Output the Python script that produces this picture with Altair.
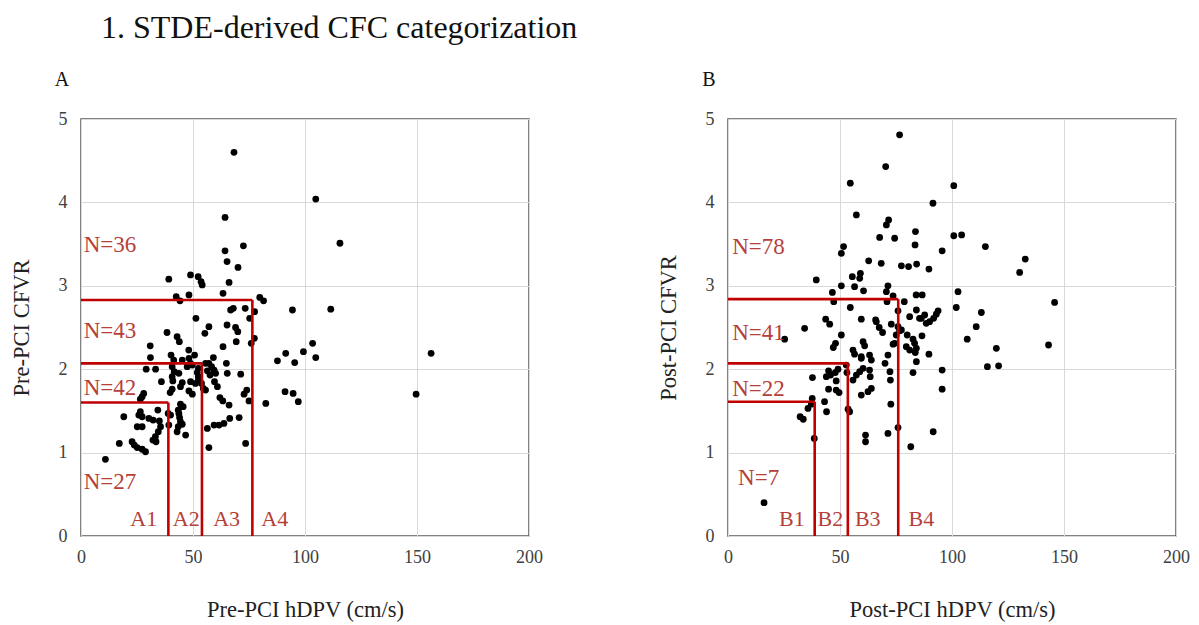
import altair as alt
import pandas as pd

# ---------------- data ----------------
# Panel A: pre-PCI (hDPV cm/s, CFVR)
a_points = [
    (68.3, 4.60), (104.8, 4.04), (64.3, 3.82), (115.6, 3.51), (72.5, 3.48), (64.3, 3.42), (65.2, 3.29), (70.1, 3.22),
    (39.2, 3.08), (48.9, 3.13), (52.3, 3.11), (53.6, 3.05), (54.1, 3.01), (66.1, 3.04),
    (63.4, 2.91), (48.2, 2.89), (42.5, 2.87), (44.2, 2.82), (79.8, 2.86), (81.5, 2.82),
    (66.8, 2.71), (68.0, 2.73), (73.3, 2.73), (77.5, 2.69), (94.4, 2.71), (111.5, 2.72),
    (51.3, 2.61), (75.3, 2.61),
    (57.1, 2.51), (55.3, 2.43), (65.2, 2.53), (69.0, 2.50), (70.0, 2.45), (69.3, 2.33), (77.4, 2.37), (76.0, 2.31),
    (38.4, 2.44), (42.9, 2.39), (43.9, 2.33), (30.9, 2.28), (63.4, 2.27), (48.1, 2.23),
    (103.4, 2.31), (99.3, 2.21), (91.4, 2.19), (87.7, 2.10), (95.4, 2.08), (104.8, 2.14), (156.3, 2.19),
    (31.0, 2.14), (40.2, 2.17), (41.4, 2.11), (50.7, 2.17), (48.2, 2.13), (45.2, 2.11), (59.1, 2.14),
    (57.1, 2.07), (55.6, 2.07), (64.9, 2.07), (48.9, 2.07),
    (29.1, 2.00), (33.3, 2.00), (40.7, 2.03), (41.6, 1.97), (47.4, 2.03), (49.7, 2.05), (43.7, 1.95),
    (52.4, 2.01), (51.9, 1.96), (52.4, 1.91), (52.4, 1.87), (53.8, 1.83), (51.1, 1.83), (54.6, 1.77),
    (59.4, 1.99), (60.1, 1.95), (58.3, 2.03), (56.4, 1.98), (57.6, 1.93), (65.3, 1.95), (71.3, 1.94),
    (40.7, 1.91), (41.0, 1.86), (35.9, 1.85), (45.2, 1.84), (44.4, 1.79), (48.9, 1.85),
    (59.6, 1.85), (60.9, 1.79), (55.6, 1.75), (40.7, 1.76), (39.8, 1.72), (48.2, 1.74), (49.7, 1.70),
    (74.0, 1.75), (72.8, 1.70), (28.0, 1.71), (27.3, 1.67), (26.5, 1.64), (62.0, 1.66), (63.3, 1.62),
    (66.1, 1.57), (75.0, 1.62), (82.5, 1.59),
    (91.1, 1.73), (94.7, 1.71), (97.0, 1.61), (149.6, 1.70),
    (34.3, 1.51), (43.4, 1.51), (44.4, 1.58), (45.6, 1.55), (38.9, 1.47), (43.7, 1.47),
    (26.5, 1.49), (25.8, 1.45), (27.3, 1.43), (19.1, 1.43), (30.3, 1.41), (32.2, 1.39), (35.0, 1.38),
    (40.0, 1.45), (39.2, 1.33), (44.0, 1.42), (44.4, 1.37), (45.2, 1.34),
    (70.6, 1.42), (66.4, 1.41), (63.8, 1.35), (61.6, 1.33), (59.4, 1.33), (56.4, 1.29),
    (25.1, 1.31), (27.3, 1.31), (35.5, 1.31), (34.5, 1.25), (33.2, 1.19), (43.4, 1.31), (42.9, 1.25), (46.7, 1.21),
    (32.1, 1.15), (33.5, 1.13), (17.1, 1.11), (22.8, 1.13), (23.8, 1.09), (25.1, 1.06), (27.3, 1.04), (28.8, 1.01),
    (57.1, 1.06), (73.5, 1.11), (10.9, 0.92),
]

# Panel B: post-PCI (hDPV cm/s, CFVR)
b_points = [
    (76.6, 4.81), (70.4, 4.43), (54.6, 4.23), (100.8, 4.20), (91.5, 3.99), (57.3, 3.85), (71.7, 3.79), (70.7, 3.73),
    (67.7, 3.58), (74.4, 3.57), (83.7, 3.65), (83.5, 3.49), (100.8, 3.60), (104.3, 3.61), (114.9, 3.47), (95.6, 3.42),
    (51.6, 3.47), (50.6, 3.39), (62.8, 3.30), (68.4, 3.27), (132.7, 3.32), (130.2, 3.16),
    (77.4, 3.24), (80.6, 3.23), (84.2, 3.26), (89.7, 3.20),
    (39.4, 3.07), (55.5, 3.11), (59.1, 3.15), (58.8, 3.09), (56.5, 2.99), (50.6, 3.00), (46.6, 2.92), (60.5, 2.94),
    (71.4, 3.00), (70.7, 2.93), (73.7, 2.88), (102.7, 2.93), (84.0, 2.89), (86.7, 2.89), (145.8, 2.80),
    (47.2, 2.81), (71.0, 2.81), (78.7, 2.81), (54.6, 2.74), (101.9, 2.74), (113.1, 2.68), (84.1, 2.71), (75.9, 2.70),
    (59.5, 2.60), (65.9, 2.59), (43.6, 2.60), (45.4, 2.54), (34.2, 2.49), (25.3, 2.36), (50.6, 2.41),
    (66.2, 2.57), (67.5, 2.50), (69.0, 2.44), (72.9, 2.54), (75.9, 2.51), (76.6, 2.46), (75.1, 2.41),
    (81.1, 2.63), (85.5, 2.61), (87.8, 2.65), (90.0, 2.57), (91.8, 2.61), (93.0, 2.66), (93.8, 2.70), (88.5, 2.55), (86.3, 2.61),
    (110.8, 2.51), (77.4, 2.47), (80.0, 2.41), (82.6, 2.36), (86.6, 2.40), (106.8, 2.36),
    (79.6, 2.27), (81.1, 2.23), (84.1, 2.25), (83.3, 2.31), (83.6, 2.20), (89.7, 2.18), (119.8, 2.25), (143.1, 2.29), (84.1, 2.09),
    (73.7, 2.30), (74.4, 2.31), (71.4, 2.17), (70.1, 2.07),
    (48.0, 2.31), (47.0, 2.26), (55.8, 2.23), (56.5, 2.18), (60.3, 2.33), (61.0, 2.28), (59.5, 2.13), (63.2, 2.17), (64.0, 2.11), (59.5, 2.15),
    (44.9, 1.98), (43.9, 1.91), (45.8, 1.93), (49.1, 2.00), (47.9, 1.96), (37.7, 1.90), (48.3, 1.86),
    (52.8, 2.05), (53.1, 1.96), (63.2, 1.99), (63.5, 1.91), (57.3, 1.93), (58.8, 1.97), (60.3, 2.01), (55.8, 1.87),
    (72.3, 1.97), (72.5, 1.87), (82.6, 1.96), (95.6, 1.99), (115.8, 2.03), (120.8, 2.04), (95.6, 1.76),
    (44.9, 1.76), (48.3, 1.75), (49.6, 1.72), (64.0, 1.77), (62.5, 1.73), (59.5, 1.69),
    (37.6, 1.65), (37.2, 1.58), (35.7, 1.53), (43.1, 1.61), (44.0, 1.49), (53.6, 1.52), (54.3, 1.49), (72.7, 1.58),
    (32.2, 1.43), (33.6, 1.40), (38.5, 1.17), (75.9, 1.30), (71.4, 1.23), (61.4, 1.21), (61.4, 1.13), (81.6, 1.07), (91.6, 1.25),
    (16.1, 0.40),
]

# Category cut-offs (hDPV, CFVR)
a_cut_hdpv = [39.0, 54.0, 76.5]
a_cut_cfvr = [1.60, 2.07, 2.83]
b_cut_hdpv = [38.7, 53.5, 76.0]
b_cut_cfvr = [1.61, 2.07, 2.84]

# Annotations
a_n_labels = ["N=36", "N=43", "N=42", "N=27"]
a_n_hdpv = [1.2, 1.2, 1.2, 1.2]
a_n_cfvr = [3.49, 2.46, 1.77, 0.65]
b_n_labels = ["N=78", "N=41", "N=22", "N=7"]
b_n_hdpv = [1.9, 1.9, 1.9, 4.5]
b_n_cfvr = [3.47, 2.44, 1.76, 0.70]

a_zone_labels = ["A1", "A2", "A3", "A4"]
a_zone_hdpv = [28.0, 47.0, 65.0, 86.5]
b_zone_labels = ["B1", "B2", "B3", "B4"]
b_zone_hdpv = [28.5, 45.7, 62.4, 86.3]
zone_cfvr = 0.2

x_ticks = [0, 50, 100, 150, 200]
y_ticks = [0, 1, 2, 3, 4, 5]

SERIF = "Liberation Serif"
RED_LINE = "#c00000"
RED_TEXT = "#b5403a"


def panel(points, cut_x, cut_y, n_lab, n_x, n_y, z_lab, z_x, letter, xtitle, ytitle):
    pts = pd.DataFrame(points, columns=["hdpv", "cfvr"])
    segs = []
    for cx, cy in zip(cut_x, cut_y):
        segs.append({"x": 0, "y": cy, "x2": cx, "y2": cy})
        segs.append({"x": cx, "y": cy, "x2": cx, "y2": 0})
    segs = pd.DataFrame(segs)
    nlab = pd.DataFrame({"label": n_lab, "x": n_x, "y": n_y})
    zlab = pd.DataFrame({"label": z_lab, "x": z_x, "y": [zone_cfvr] * len(z_lab)})

    xs = alt.Scale(domain=[0, 200], nice=False, zero=False)
    ys = alt.Scale(domain=[0, 5], nice=False, zero=False)
    xax = alt.Axis(values=x_ticks, labelFlush=False, format="d", title=xtitle)
    yax = alt.Axis(values=y_ticks, format="d", title=ytitle)

    dots = alt.Chart(pts).mark_circle(size=46, color="black", opacity=1).encode(
        x=alt.X("hdpv:Q", scale=xs, axis=xax, title=xtitle),
        y=alt.Y("cfvr:Q", scale=ys, axis=yax, title=ytitle),
    )
    rules = alt.Chart(segs).mark_rule(color=RED_LINE, strokeWidth=2.6).encode(
        x=alt.X("x:Q", scale=xs, title=xtitle),
        y=alt.Y("y:Q", scale=ys, title=ytitle),
        x2="x2:Q",
        y2="y2:Q",
    )
    ntext = alt.Chart(nlab).mark_text(
        font=SERIF, fontSize=23, color=RED_TEXT, align="left", baseline="middle"
    ).encode(
        x=alt.X("x:Q", scale=xs, title=xtitle),
        y=alt.Y("y:Q", scale=ys, title=ytitle),
        text="label:N",
    )
    ztext = alt.Chart(zlab).mark_text(
        font=SERIF, fontSize=22, color=RED_TEXT, align="center", baseline="middle"
    ).encode(
        x=alt.X("x:Q", scale=xs, title=xtitle),
        y=alt.Y("y:Q", scale=ys, title=ytitle),
        text="label:N",
    )
    let = alt.Chart(pd.DataFrame({"t": [letter]})).mark_text(
        font=SERIF, fontSize=20, color="#111", align="center", baseline="middle"
    ).encode(text="t:N", x=alt.value(-19), y=alt.value(-39))
    return alt.layer(dots, rules, ntext, ztext, let).properties(width=448, height=417)


left = panel(a_points, a_cut_hdpv, a_cut_cfvr, a_n_labels, a_n_hdpv, a_n_cfvr,
             a_zone_labels, a_zone_hdpv, "A", "Pre-PCI hDPV (cm/s)", "Pre-PCI CFVR")
right = panel(b_points, b_cut_hdpv, b_cut_cfvr, b_n_labels, b_n_hdpv, b_n_cfvr,
              b_zone_labels, b_zone_hdpv, "B", "Post-PCI hDPV (cm/s)", "Post-PCI CFVR")

chart = alt.hconcat(left, right, spacing=112).properties(
    title=alt.TitleParams(
        "1. STDE-derived CFC categorization", anchor="start", frame="group",
        font=SERIF, fontSize=32, fontWeight="normal", color="#111", dx=20, offset=24,
    ),
    padding={"left": 9, "top": 12, "right": 0, "bottom": 0},
    background="white",
).configure_view(
    stroke="#595959", strokeWidth=1.5
).configure_axis(
    domain=False, ticks=False, grid=True, gridColor="#d9d9d9", gridWidth=1,
    labelFont=SERIF, labelFontSize=18, labelColor="#404040",
    titleFont=SERIF, titleFontSize=22.5, titleFontWeight="normal", titleColor="#222",
).configure_axisX(
    labelPadding=12, titlePadding=32
).configure_axisY(
    labelPadding=14, titlePadding=25
)

chart.save("out.html", embed_options={"renderer": "svg", "actions": False})
